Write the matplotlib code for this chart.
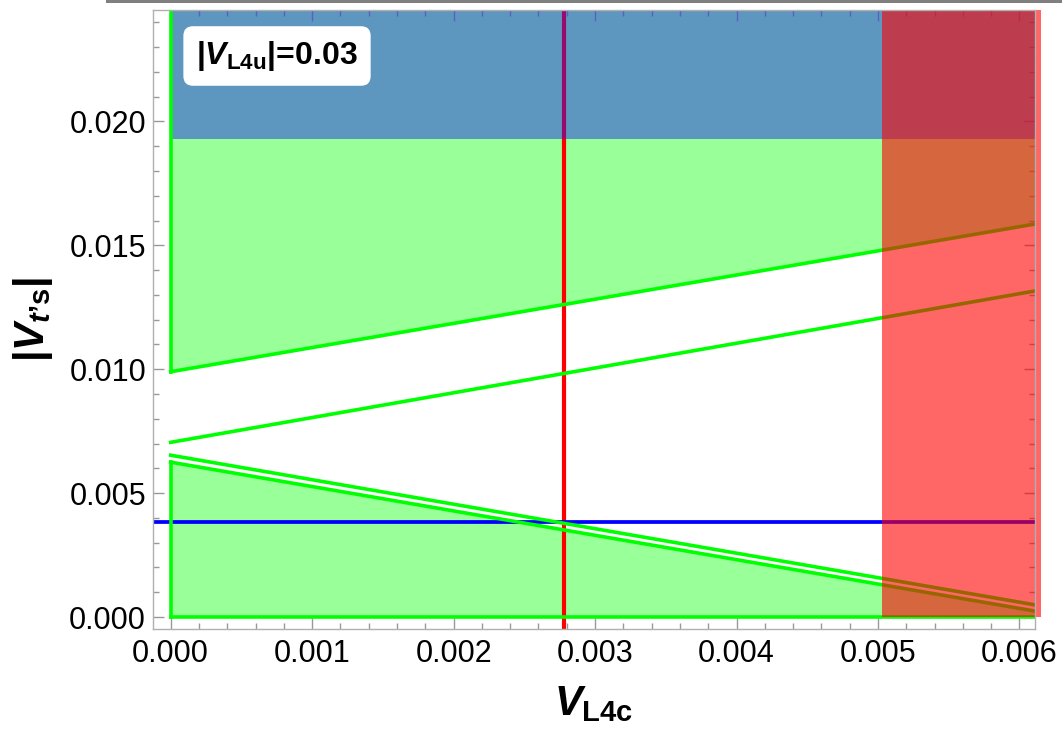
import matplotlib.pyplot as plt
from matplotlib.patches import Rectangle
from matplotlib.ticker import MultipleLocator, FormatStrFormatter
import numpy as np

plt.rcParams['font.family'] = ['Liberation Sans', 'DejaVu Sans']
plt.rcParams['mathtext.fontset'] = 'custom'
plt.rcParams['mathtext.rm'] = 'Liberation Sans:bold'
plt.rcParams['mathtext.bf'] = 'Liberation Sans:bold'
plt.rcParams['mathtext.it'] = 'Liberation Sans:bold:italic'

# boundary values at the two ends of the V_L4c range
x_ends = [0.0, 0.00615]
upper_band_low = [0.0099, 0.0159]
mid_line = [0.00705, 0.0132]
lower_line = [0.00653, 0.00045]
lower_band_top = [0.00625, 0.0002]
y_top = 0.0245
blue_floor = 0.0193
red_from = 0.00503
v_l4c_point = 0.00278
v_ts_point = 0.00383

green = '#00ff00'
green_fill = '#99ff99'

fig = plt.figure(figsize=(10.62, 7.31), dpi=100)
ax = fig.add_axes([153/1062, 102/731, 882/1062, 619/731])

xs = np.array(x_ends)
# allowed green bands
ax.fill_between(xs, upper_band_low, y_top, color=green_fill, lw=0, zorder=1)
ax.fill_between(xs, 0, lower_band_top, color=green_fill, lw=0, zorder=1)

ax.axvline(v_l4c_point, color='red', lw=3.0, zorder=2)
ax.axhline(v_ts_point, color='#0000ff', lw=2.7, zorder=2)

# excluded region from above
ax.fill_between(xs, blue_floor, y_top, color=(0.096, 0.109, 0.943), alpha=0.458, lw=0, zorder=3)

# band edges
lw = 2.6
ax.plot(xs, upper_band_low, color=green, lw=lw, zorder=4)
ax.plot([0, 0], [upper_band_low[0], y_top], color=green, lw=lw, zorder=4)
ax.plot(xs, mid_line, color=green, lw=lw, zorder=4)
ax.plot(xs, lower_line, color=green, lw=lw, zorder=4)
ax.plot(xs, lower_band_top, color=green, lw=lw, zorder=4)
ax.plot([0, 0], [0, lower_band_top[0]], color=green, lw=lw, zorder=4)
ax.plot(xs, [0, 0], color=green, lw=lw, zorder=4)

# excluded region on the right
ax.add_patch(Rectangle((red_from, 0), x_ends[1] - red_from, y_top, facecolor='red',
                       alpha=0.6, lw=0, zorder=5, clip_on=False))

ax.set_xlim(-0.000125, 0.00611)
ax.set_ylim(-0.000484, y_top)

ax.xaxis.set_major_locator(MultipleLocator(0.001))
ax.xaxis.set_minor_locator(MultipleLocator(0.0002))
ax.yaxis.set_major_locator(MultipleLocator(0.005))
ax.yaxis.set_minor_locator(MultipleLocator(0.001))
ax.xaxis.set_major_formatter(FormatStrFormatter('%.3f'))
ax.yaxis.set_major_formatter(FormatStrFormatter('%.3f'))
ax.tick_params(which='both', direction='in', top=True, right=True, color='#999999',
               labelsize=22, width=1)
ax.tick_params(which='major', length=8)
ax.tick_params(which='minor', length=4.5)
ax.tick_params(axis='x', pad=7)
ax.tick_params(axis='y', pad=5)
for sp in ax.spines.values():
    sp.set_color('#b0b0b0')
    sp.set_linewidth(1)
    sp.set_zorder(6)

ax.set_xlabel(r'$V_{\mathrm{L4c}}$', fontsize=30, labelpad=11)
ax.set_ylabel(r"$|V_{t\mathrm{’s}}|$", fontsize=30, labelpad=10)

ax.text(0.1406, 0.9257, r'$|V_{\mathrm{L4u}}|$=0.03', transform=ax.transAxes,
        fontsize=23, fontweight='bold', ha='center', va='center', zorder=7,
        bbox=dict(boxstyle='round,pad=0.4,rounding_size=0.3', fc='white', ec='none'))

# thin gray strip along the top edge
fig.add_artist(Rectangle((106/1062, 1 - 3/731), 1, 3/731, transform=fig.transFigure,
                         facecolor='#7f7f7f', lw=0))

fig.savefig('out.png', dpi=100)
